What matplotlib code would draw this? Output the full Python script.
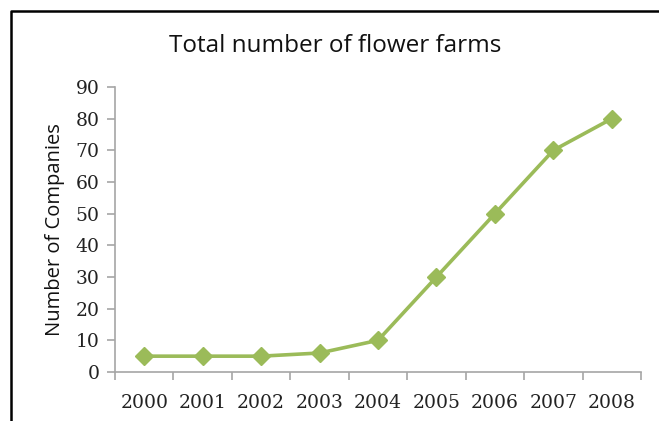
import matplotlib
matplotlib.use("Agg")
import matplotlib.pyplot as plt
from matplotlib.lines import Line2D
import numpy as np

years = ["2000", "2001", "2002", "2003", "2004", "2005", "2006", "2007", "2008"]
companies = [5, 5, 5, 6, 10, 30, 50, 70, 80]
y_ticks = [0, 10, 20, 30, 40, 50, 60, 70, 80, 90]

W, H = 659, 421
fig = plt.figure(figsize=(W / 100, H / 100), dpi=100)
ax = fig.add_axes([115 / W, 1 - 372 / H, (641 - 115) / W, (372 - 87) / H])

x = np.arange(len(years))
ax.plot(x, companies, color="#9BBB59", lw=2.6, marker="D", ms=9.5,
        markeredgecolor="#9BBB59", markerfacecolor="#9BBB59")

ax.set_xlim(-0.5, len(years) - 0.5)
ax.set_ylim(0, 90)
ax.set_yticks(y_ticks)
ax.set_xticks(x)
ax.set_xticklabels(years)
ax.set_xticks(np.arange(len(years) + 1) - 0.5, minor=True)

gray = "#A6A6A6"
for s in ["top", "right"]:
    ax.spines[s].set_visible(False)
for s in ["left", "bottom"]:
    ax.spines[s].set_color(gray)
    ax.spines[s].set_linewidth(1.2)

tick_font = "DejaVu Serif"
ax.tick_params(axis="x", which="major", length=0, pad=16, labelsize=13.5,
               labelcolor="#222222")
ax.tick_params(axis="x", which="minor", length=6, color=gray, width=1.2)
ax.tick_params(axis="y", length=6, color=gray, width=1.2, pad=5,
               labelsize=13.5, labelcolor="#222222")
for lab in ax.get_xticklabels() + ax.get_yticklabels():
    lab.set_family(tick_font)

ax.set_ylabel("Number of Companies", fontsize=14.5, family="Open Sans",
              color="#111111", labelpad=8)

fig.text(335 / W, 1 - 46 / H, "Total number of flower farms", ha="center",
         va="center", fontsize=17.5, family="Open Sans", color="#111111")

# chart border (clipped on the right and bottom like the source)
x0 = 10.5 / W
y0 = 1 - 11 / H
fig.add_artist(Line2D([x0, x0, 1.0], [0.0, y0, y0], color="black", lw=1.8,
                      transform=fig.transFigure))

fig.savefig("out.png", dpi=100)
